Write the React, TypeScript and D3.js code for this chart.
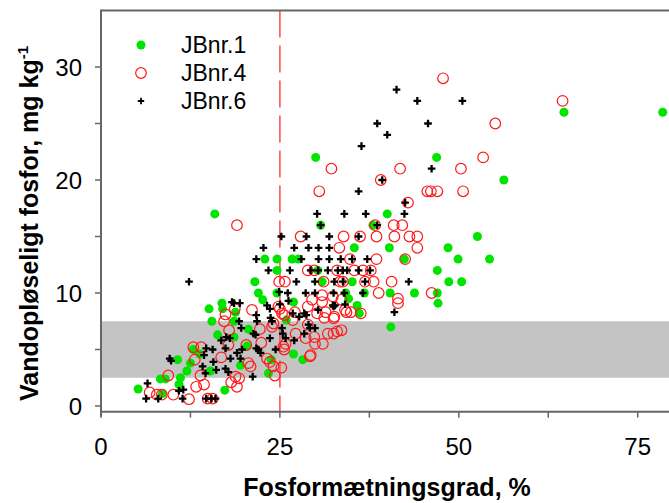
import * as d3 from 'd3';

// JBnr.1 (grøn), JBnr.4 (rød cirkel), JBnr.6 (sort kryds): [fosformætningsgrad %, vandopløseligt P mg/kg]
const jb1: [number, number][] = [
  [78.5, 26], [64.7, 26], [56.3, 20], [46.9, 22], [30.0, 22], [15.9, 17], [40.0, 17], [30.7, 16], [38.0, 16],
  [52.6, 15], [48.5, 14], [40.3, 14], [35.4, 14], [49.9, 13], [54.3, 13], [22.9, 13], [24.6, 13], [26.7, 13],
  [27.6, 13], [42.4, 13], [47.0, 12], [24.6, 12], [30.3, 12], [21.5, 11], [35.1, 11], [30.9, 11], [48.6, 11],
  [50.4, 11], [22.0, 10], [24.6, 10], [34.2, 10], [36.8, 10], [40.4, 10], [43.8, 10], [47.0, 10], [47.1, 9.1],
  [22.6, 9.4], [34.6, 9.5], [35.8, 8.9], [36.1, 8.2], [40.5, 7.0], [26.9, 9.2],
  [15.1, 8.6], [16.9, 9.1], [17.0, 8.6], [18.8, 8.3], [15.5, 7.5], [18.6, 7.5], [16.3, 6.3], [18.6, 6.1],
  [20.4, 5.3], [25.9, 7.6], [26.9, 4.6], [28.2, 4.1], [23.4, 2.9], [23.8, 4.1], [10.7, 4.1], [12.5, 3.8],
  [12.0, 3.1], [15.3, 3.1], [8.3, 2.4], [9.0, 2.4], [11.1, 2.5], [10.9, 1.9], [5.2, 1.5], [17.3, 1.4],
  [8.6, 1.1], [19.5, 3.6], [12.9, 5.0], [20.6, 6.8], [13.8, 4.6]
];

const jb4: [number, number][] = [
  [47.8, 29], [64.5, 27], [55.1, 25], [53.4, 22], [32.2, 21], [41.8, 21], [50.3, 21], [39.1, 20], [30.5, 19],
  [45.6, 19], [46.1, 19], [47.0, 19], [50.6, 19], [42.9, 18], [19.0, 16], [40.9, 16], [42.1, 16], [38.3, 16],
  [27.9, 15], [33.9, 15], [36.2, 15], [38.5, 15], [41.0, 15], [43.1, 15], [44.2, 15], [33.3, 14], [44.2, 14],
  [34.8, 13], [38.5, 13], [42.5, 13], [28.9, 12], [29.8, 12], [33.0, 12], [35.4, 12], [36.6, 12], [37.7, 12],
  [24.9, 11], [25.7, 11], [31.1, 11], [33.4, 11], [33.8, 11], [36.9, 11], [38.1, 11], [40.6, 11], [38.8, 10],
  [46.2, 10], [41.5, 9.5], [41.5, 9.1], [30.9, 9.8], [30.9, 9.2], [28.9, 8.8], [34.1, 8.5], [34.3, 8.3],
  [36.3, 8.2], [32.6, 7.9], [31.4, 8.3],
  [18.7, 8.6], [21.1, 8.5], [17.2, 7.5], [17.4, 8.1], [17.9, 6.7], [17.8, 5.4], [16.8, 4.3], [14.0, 5.2],
  [12.9, 5.2], [13.1, 4.1], [9.4, 2.7], [6.8, 1.2], [7.8, 1.0], [8.5, 1.0], [10.1, 1.0], [12.3, 0.6],
  [13.3, 1.7], [14.4, 1.9], [13.9, 2.7], [14.9, 0.65], [15.6, 0.65], [18.2, 2.1], [19.0, 1.7], [19.3, 2.45],
  [18.8, 2.6], [20.9, 3.5], [20.6, 3.8], [20.3, 5.4], [22.2, 6.8], [22.4, 5.6], [23.2, 4.2], [23.6, 3.9],
  [24.1, 3.5], [24.3, 2.7], [25.2, 3.4], [25.6, 5.0], [25.5, 5.25], [25.8, 5.5], [25.3, 8.2], [26.8, 7.6],
  [27.2, 6.4], [28.9, 7.2], [28.6, 6.0], [29.8, 6.1], [29.9, 5.5], [31.0, 5.5], [29.2, 4.4], [31.7, 6.4],
  [32.5, 6.4], [33.0, 6.6], [33.6, 6.7], [31.2, 7.8], [32.5, 7.75], [32.4, 9.7], [29.5, 9.4], [30.2, 8.2],
  [27.1, 8.3], [25.6, 8.05], [24.1, 7.3], [25.0, 8.6], [34.9, 8.3], [33.6, 9.4], [24.8, 8.8], [23.9, 7.0],
  [29.3, 4.5]
];

const jb6: [number, number][] = [
  [41.3, 28], [44.2, 27], [50.5, 27], [38.6, 25], [45.7, 25], [40.0, 24], [36.4, 23], [46.2, 21], [39.3, 20],
  [36.0, 19], [42.5, 18], [30.2, 17], [34.0, 17], [37.0, 17], [42.4, 17], [30.7, 16], [38.6, 16], [25.2, 15],
  [28.7, 15], [31.9, 15], [36.0, 15], [22.7, 14], [27.0, 14], [29.0, 14], [30.4, 14], [31.9, 14], [21.7, 13],
  [28.0, 13], [30.4, 13], [31.9, 13], [33.5, 13], [35.1, 13], [37.2, 13], [23.4, 12], [26.4, 12], [29.3, 12],
  [30.35, 12], [31.7, 12], [33.1, 12], [33.8, 12], [34.4, 12], [36.0, 12], [37.6, 12], [12.3, 11], [27.3, 11],
  [29.9, 11], [32.6, 11], [33.8, 11], [36.9, 11], [43.0, 11], [26.1, 10], [28.6, 10], [29.9, 10], [32.5, 10],
  [34.0, 10], [36.6, 10], [41.0, 8.3], [32.4, 8.9],
  [18.3, 9.2], [18.6, 9.1], [19.4, 9.1], [21.7, 8.05], [21.8, 7.5], [23.2, 8.9], [23.6, 8.6], [23.7, 7.8],
  [19.3, 7.5], [19.6, 6.9], [21.3, 6.4], [21.6, 6.3], [17.5, 6.1], [16.8, 5.8], [18.0, 6.0], [17.4, 5.1],
  [14.7, 5.1], [15.6, 5.0], [14.4, 4.5], [15.7, 3.9], [14.2, 3.5], [14.6, 2.9], [16.1, 3.2], [18.1, 4.2],
  [19.0, 4.7], [19.7, 5.0], [19.5, 4.2], [17.4, 3.3], [17.8, 3.0], [21.2, 2.6], [21.7, 5.1], [22.0, 5.0],
  [22.3, 4.7], [23.6, 6.0], [23.9, 7.5], [25.3, 6.9], [25.4, 6.4], [24.4, 5.0], [25.8, 6.0], [27.0, 5.8],
  [26.8, 8.2], [27.7, 7.9], [28.4, 6.4], [28.4, 8.2], [28.7, 8.05], [29.0, 7.2], [29.2, 6.9], [29.9, 6.9],
  [30.35, 8.5], [32.5, 8.8], [32.7, 8.9], [9.6, 4.2], [9.8, 4.0], [6.5, 2.0], [6.3, 0.65], [8.0, 0.65],
  [10.9, 1.35], [11.5, 1.45], [11.4, 0.65], [14.7, 0.65], [15.4, 0.65], [16.0, 0.65], [26.2, 9.3], [25.0, 9.0],
  [34.1, 9.0], [24.9, 10.1]
];

const seriesNames = ['JBnr.1', 'JBnr.4', 'JBnr.6'];
const xTicks = [0, 12.5, 25, 37.5, 50, 62.5, 75];
const xTickLabels = [0, 25, 50, 75];
const yTicks = [0, 5, 10, 15, 20, 25, 30];
const yTickLabels = [0, 10, 20, 30];
const band = [2.5, 7.5];
const threshold = 25;

const W = 669;
const H = 503;
const FONT = 'Liberation Sans, Arial, sans-serif';

export default function App() {
  const x = d3.scaleLinear().domain([0, 80]).range([101, 101 + 80 * 7.156]);
  const y = d3.scaleLinear().domain([0, 35]).range([406, 406 - 35 * 11.3]);
  const x0 = x(0);
  const yBottom = y(-0.5);
  const yTop = y(35);

  const plus = (cx: number, cy: number, a: number) => `M${cx - a},${cy}H${cx + a}M${cx},${cy - a}V${cy + a}`;

  return (
    <svg width={W} height={H} style={{ position: 'absolute', left: 0, top: 0, background: '#fff' }} fontFamily={FONT}>
      {/* grå zone */}
      <rect x={x0 + 1} y={y(band[1])} width={W - x0} height={y(band[0]) - y(band[1])} fill="#c4c4c4" />
      {/* 25 % grænse */}
      <line x1={x(threshold)} x2={x(threshold)} y1={yTop} y2={yBottom} stroke="#ff4a4a" strokeWidth={1.5}
        strokeDasharray="27,8" />

      {/* akser */}
      <line x1={x0} x2={W} y1={yTop} y2={yTop} stroke="#666" strokeWidth={2} />
      <line x1={x0} x2={W} y1={yBottom} y2={yBottom} stroke="#666" strokeWidth={2} />
      <line x1={x0} x2={x0} y1={yTop - 1} y2={yBottom + 5} stroke="#666" strokeWidth={2} />
      {xTicks.map(t => (
        <line key={'xt' + t} x1={x(t)} x2={x(t)} y1={yBottom} y2={yBottom + 6} stroke="#666" strokeWidth={1.5} />
      ))}
      {yTicks.map(t => (
        <line key={'yt' + t} x1={x0 - 6} x2={x0} y1={y(t)} y2={y(t)} stroke="#666" strokeWidth={1.5} />
      ))}
      {xTickLabels.map(t => (
        <text key={'xl' + t} x={x(t)} y={455} textAnchor="middle" fontSize={24}>{t}</text>
      ))}
      {yTickLabels.map(t => (
        <text key={'yl' + t} x={82} y={y(t) + 8.5} textAnchor="end" fontSize={24}>{t}</text>
      ))}

      {/* punkter */}
      {jb1.map((d, i) => (
        <circle key={'g' + i} cx={x(d[0])} cy={y(d[1])} r={4.5} fill="#00e400" />
      ))}
      {jb4.map((d, i) => (
        <circle key={'r' + i} cx={x(d[0])} cy={y(d[1])} r={5.3} fill="none" stroke="#ff1a1a" strokeWidth={1.2} />
      ))}
      {jb6.map((d, i) => (
        <path key={'b' + i} d={plus(x(d[0]), y(d[1]), 3.8)} stroke="#000" strokeWidth={2.3} />
      ))}

      {/* legende */}
      <circle cx={141} cy={45} r={4.5} fill="#00e400" />
      <circle cx={141} cy={73} r={5.3} fill="none" stroke="#ff1a1a" strokeWidth={1.2} />
      <path d={plus(141, 101, 3.2)} stroke="#000" strokeWidth={1.8} />
      {seriesNames.map((s, i) => (
        <text key={s} x={181} y={53 + i * 28} fontSize={23}>{s}</text>
      ))}

      {/* aksetitler */}
      <text x={387} y={496} textAnchor="middle" fontSize={25} fontWeight="bold">Fosformætningsgrad, %</text>
      <text transform="translate(38,401) rotate(-90)" fontSize={25} fontWeight="bold">
        Vandopløseligt fosfor, mg kg<tspan dy={-10} fontSize={15}>-1</tspan>
      </text>
    </svg>
  );
}
